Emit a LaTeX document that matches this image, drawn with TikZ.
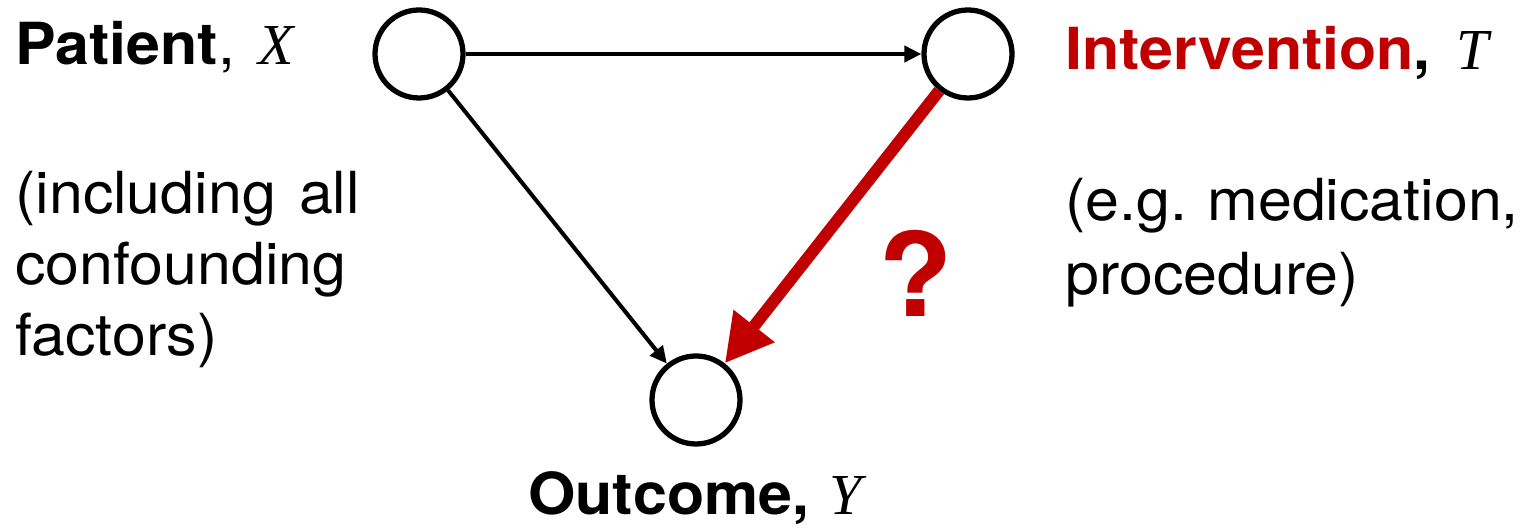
\documentclass[tikz,border=0pt]{standalone}
\usepackage{fontspec}
\setmainfont{TeX Gyre Heros}[FakeStretch=1.05]
\newfontfamily\varfont{Liberation Serif}
\usepackage{tikz}
\usetikzlibrary{arrows.meta,positioning}

\definecolor{causered}{RGB}{192,0,0}
\newcommand{\var}[1]{{\varfont\itshape #1}}

\begin{document}
\begin{tikzpicture}[
    var/.style={draw, circle, line width=3pt, minimum size=1.76cm, inner sep=0pt},
    edge/.style={line width=2.3pt, -{Triangle[length=0.34cm, width=0.32cm]}},
    query/.style={draw=causered, line width=6.8pt, -{Triangle[length=0.95cm, width=0.98cm]}},
    label/.style={font=\fontsize{33}{41}\selectfont, inner sep=0pt, anchor=base west}
]
    \useasboundingbox (0, 0) rectangle (30.6, 10.6);

    % variables
    \node[var] (x) at (8.38, 9.52) {};
    \node[var] (t) at (19.36, 9.52) {};
    \node[var] (y) at (13.92, 2.6) {};

    % edges
    \draw[edge] (x) -- (t);
    \draw[edge] (x) -- (y);
    \draw[query] (t) -- (y);
    \node[font=\fontsize{66}{66}\selectfont\bfseries, text=causered, inner sep=0pt, anchor=base] (q) at (18.32, 4.26) {?};

    % patient
    \node[label] (xlabel) at (0.3, 9.3) {\textbf{Patient},\hspace{0.4em}\var{X}};
    \node[label] (xnote1) at (0.3, 6.32) {(including\hspace{0.4em}all};
    \node[label] (xnote2) at (0.3, 4.9) {confounding};
    \node[label] (xnote3) at (0.3, 3.48) {factors)};

    % intervention
    \node[label] (tlabel) at (21.3, 9.2) {\textbf{\textcolor{causered}{Intervention},}\hspace{0.45em}\var{T}};
    \node[label] (tnote1) at (21.3, 6.18) {(e.g.\hspace{0.35em}medication,};
    \node[label] (tnote2) at (21.3, 4.7) {procedure)};

    % outcome
    \node[label, anchor=base] (ylabel) at (13.9, 0.3) {\textbf{Outcome,}\hspace{0.35em}\var{Y}};
\end{tikzpicture}
\end{document}
